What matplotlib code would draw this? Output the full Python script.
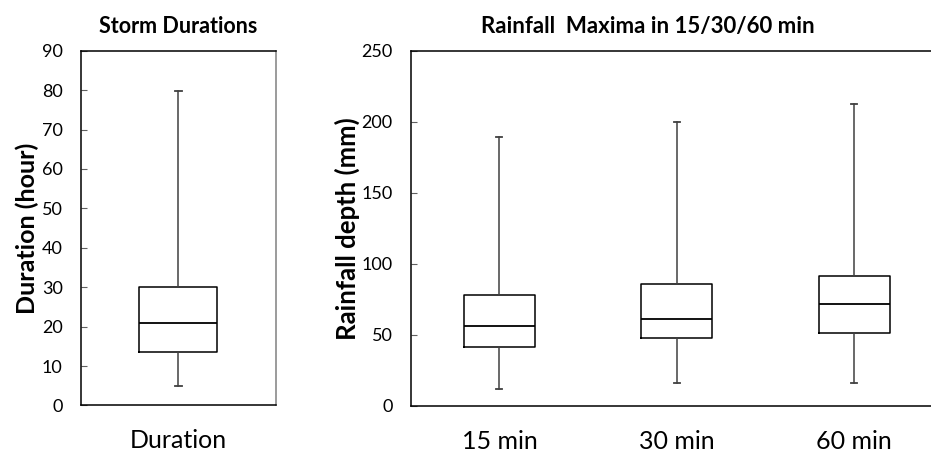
import matplotlib
matplotlib.use("Agg")
import matplotlib.pyplot as plt

plt.rcParams['font.family'] = ['Lato', 'DejaVu Sans']

# storm durations (hour)
dur_label = ["Duration"]
dur_low = [5.0]
dur_q1 = [13.6]
dur_med = [21.0]
dur_q3 = [30.0]
dur_high = [79.7]

# rainfall maxima (mm)
rain_labels = ["15 min", "30 min", "60 min"]
rain_low = [12.2, 16.0, 16.4]
rain_q1 = [41.3, 47.6, 51.4]
rain_med = [56.5, 61.4, 71.6]
rain_q3 = [78.1, 85.6, 91.5]
rain_high = [189.1, 200.1, 212.7]


def make_stats(labels, lo, q1, med, q3, hi):
    stats = []
    for i in range(len(labels)):
        stats.append(dict(label=labels[i], whislo=lo[i], q1=q1[i], med=med[i],
                          q3=q3[i], whishi=hi[i], fliers=[]))
    return stats


fig = plt.figure(figsize=(9.31, 4.55), dpi=100)
ax1 = fig.add_axes([0.0867, 0.1088, 0.2098, 0.7798])
ax2 = fig.add_axes([0.4411, 0.1077, 0.5718, 0.781])

box_kw = dict(widths=0.4, capwidths=0.035, showfliers=False,
              boxprops=dict(color='black', linewidth=1.1),
              medianprops=dict(color='black', linewidth=1.3),
              whiskerprops=dict(color='#404040', linewidth=1.1),
              capprops=dict(color='#404040', linewidth=1.3))

ax1.bxp(make_stats(dur_label, dur_low, dur_q1, dur_med, dur_q3, dur_high), **box_kw)
ax2.bxp(make_stats(rain_labels, rain_low, rain_q1, rain_med, rain_q3, rain_high), **box_kw)

# left chart
ax1.set_xlim(0.5, 1.5)
ax1.set_ylim(0, 90)
ax1.set_yticks(range(0, 91, 10))
ax1.set_title("Storm Durations", fontsize=15.5, fontweight='bold', pad=13)
ax1.set_ylabel("Duration (hour)", fontsize=18, fontweight='bold', labelpad=2)
ax1.spines['right'].set_color('#808080')

# right chart
ax2.set_xlim(0.5, 3.5)
ax2.set_ylim(0, 250)
ax2.set_yticks(range(0, 251, 50))
ax2.set_title("Rainfall  Maxima in 15/30/60 min", fontsize=16, fontweight='bold',
              pad=13, x=0.445)
ax2.set_ylabel("Rainfall depth (mm)", fontsize=18.5, fontweight='bold', labelpad=1)

for ax in (ax1, ax2):
    ax.tick_params(axis='y', direction='in', length=4, width=0.8, pad=13,
                   labelsize=13, color='#606060')
    ax.tick_params(axis='x', length=0, pad=17, labelsize=18)
    for s in ax.spines.values():
        s.set_linewidth(1.1)

plt.savefig("out.png", dpi=100)
